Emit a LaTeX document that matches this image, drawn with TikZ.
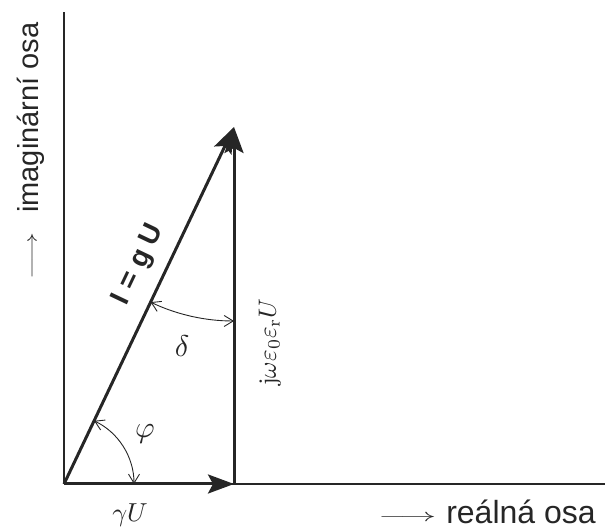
\documentclass[tikz,border=0pt]{standalone}
\usepackage{fontspec}
\usepackage{graphicx}
\newfontfamily\axisfont{Liberation Sans}
\usetikzlibrary{arrows.meta,calc}
\definecolor{ink}{gray}{0.15}
\newcommand{\longarr}[1]{{\fontsize{10}{12}\selectfont\raisebox{0.2em}{\scalebox{#1}[1.8]{$\longrightarrow$}}}}
\begin{document}
\begin{tikzpicture}[x=1pt,y=1pt,
  every node/.style={inner sep=0pt, text=ink},
  vec/.style={draw=ink, line width=3pt, -{Stealth[length=26pt,width=19pt,inset=5pt]}},
  axisline/.style={draw=ink, line width=1.6pt},
  anglearc/.style={draw=ink, line width=0.9pt, {Straight Barb[length=9pt,width=11pt]}-{Straight Barb[length=9pt,width=11pt]}},
  axlabel/.style={font=\axisfont\fontsize{29}{30}\selectfont},
  mathlabel/.style={scale=2.6, transform shape},
  anglelabel/.style={scale=3.0, transform shape}]
\useasboundingbox (0,0) rectangle (605,532);
\coordinate (O) at (64,48);
\coordinate (Ytop) at (64,520);
\coordinate (Xend) at (605,48);
\coordinate (A) at (234,48);
\coordinate (P) at (234,405);
\draw[axisline] (O) -- (Ytop);
\draw[axisline] (O) -- (Xend);
\draw[vec] (O) -- (A);
\draw[vec] (A) -- (P);
\draw[vec] (O) -- (P);
\draw[anglearc] ($(O)+(0:70)$) arc[start angle=0,end angle=64.54,radius=70];
\draw[anglearc] ($(P)+(244.54:194)$) arc[start angle=244.54,end angle=270,radius=194];
\node[axlabel, rotate=90] (ylab) at (31,381) {\longarr{2.9}\hspace{20pt}imaginární osa};
\node[axlabel, font=\axisfont\fontsize{32}{34}\selectfont] (xlab) at (487,20) {\longarr{3.6}\hspace{10pt}reálná osa};
\node[rotate=64.54, font=\axisfont\bfseries\fontsize{28}{30}\selectfont] (Ilab) at (139,267) {I\hspace{0.3em}=\hspace{0.3em}g\hspace{0.25em}U};
\node[rotate=90, scale=2.5, transform shape] (jlab) at (270,190) {$\mathrm{j}\omega\varepsilon_0\varepsilon_{\mathrm{r}}U$};
\node[mathlabel] (glab) at (130,17) {$\gamma U$};
\node[anglelabel] (phi) at (145,98) {$\varphi$};
\node[anglelabel] (delta) at (182,186) {$\delta$};
\end{tikzpicture}
\end{document}
